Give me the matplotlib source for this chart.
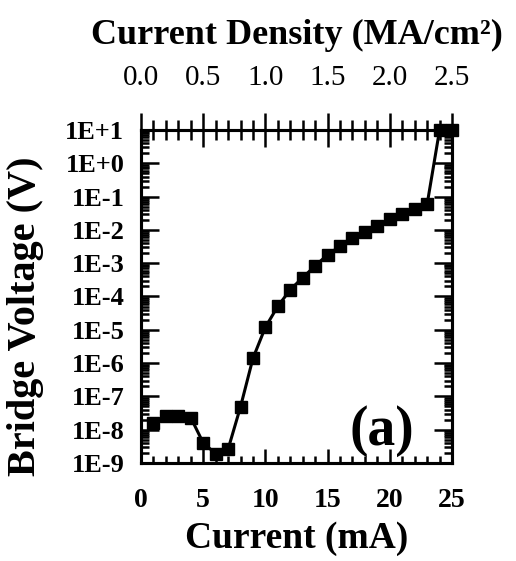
import numpy as np
import matplotlib
matplotlib.use("Agg")
import matplotlib.pyplot as plt
from matplotlib.ticker import FixedLocator, MultipleLocator, LogLocator, FuncFormatter, NullFormatter

plt.rcParams['font.family'] = ['Liberation Serif', 'DejaVu Serif']

# Measured bridge voltage versus applied current
current_mA = [1, 2, 3, 4, 5, 6, 7, 8, 9, 10, 11, 12, 13, 14, 15, 16, 17,
              18, 19, 20, 21, 22, 23, 24, 25]
voltage_V = [1.6e-8, 2.5e-8, 2.5e-8, 2.3e-8, 4.0e-9, 1.9e-9, 2.6e-9, 4.9e-8,
             1.4e-6, 1.2e-5, 5.1e-5, 1.6e-4, 3.7e-4, 8.3e-4, 1.8e-3, 3.2e-3,
             5.6e-3, 8.9e-3, 1.3e-2, 2.1e-2, 3.0e-2, 4.2e-2, 5.9e-2, 10.0, 10.0]

x_ticks = [0, 5, 10, 15, 20, 25]
density_ticks = [0.0, 0.5, 1.0, 1.5, 2.0, 2.5]
y_exponents = [1, 0, -1, -2, -3, -4, -5, -6, -7, -8, -9]

fig = plt.figure(figsize=(5.16, 5.61), dpi=100)
ax = fig.add_axes([0.2733, 0.1747, 0.6027, 0.5936])

ax.plot(current_mA, voltage_V, color='black', lw=2.2, marker='s',
        markersize=8, clip_on=False, zorder=3)

ax.set_yscale('log')
ax.set_xlim(0, 25)
ax.set_ylim(1e-9, 1e1)

ax.xaxis.set_major_locator(FixedLocator(x_ticks))
ax.xaxis.set_minor_locator(MultipleLocator(1))
ax.yaxis.set_major_locator(FixedLocator([10.0 ** e for e in y_exponents]))
ax.yaxis.set_minor_locator(LogLocator(base=10, subs=np.arange(2, 10), numticks=30))
ax.yaxis.set_minor_formatter(NullFormatter())
ax.yaxis.set_major_formatter(FuncFormatter(lambda v, p: f"1E{int(round(np.log10(v))):+d}"))

for s in ax.spines.values():
    s.set_linewidth(2.2)

ax.tick_params(axis='x', which='both', direction='in', top=False, bottom=True,
               labelsize=20, pad=18, width=1.8)
ax.tick_params(axis='x', which='major', length=10)
ax.tick_params(axis='x', which='minor', length=5)
ax.tick_params(axis='y', which='both', direction='in', left=True, right=True,
               labelsize=19, pad=12, width=1.8)
ax.tick_params(axis='y', which='major', length=13)
ax.tick_params(axis='y', which='minor', length=6)
for lab in ax.get_xticklabels() + ax.get_yticklabels():
    lab.set_fontweight('bold')

ax.set_xlabel('Current (mA)', fontsize=27, fontweight='bold', labelpad=6)
ax.set_ylabel('Bridge Voltage (V)', fontsize=29, fontweight='bold')
ax.yaxis.set_label_coords(-0.312, 0.44)

# Current density scale along the top edge
top = ax.twiny()
top.set_xlim(0, 2.5)
top.xaxis.set_major_locator(FixedLocator(density_ticks))
top.xaxis.set_minor_locator(MultipleLocator(0.1))
top.xaxis.set_major_formatter(FuncFormatter(lambda v, p: f"{v:.1f}"))
top.tick_params(axis='x', which='both', direction='inout', top=True, bottom=False,
                labelsize=21, pad=16, width=1.8)
top.tick_params(axis='x', which='major', length=24)
top.tick_params(axis='x', which='minor', length=15)
top.set_xlabel('Current Density (MA/cm²)', fontsize=26,
               fontweight='bold', labelpad=15)
for s in top.spines.values():
    s.set_linewidth(2.2)

ax.text(0.775, 0.095, '(a)', transform=ax.transAxes, fontsize=40,
        fontweight='bold', ha='center', va='center')

fig.savefig('out.png', dpi=100)
